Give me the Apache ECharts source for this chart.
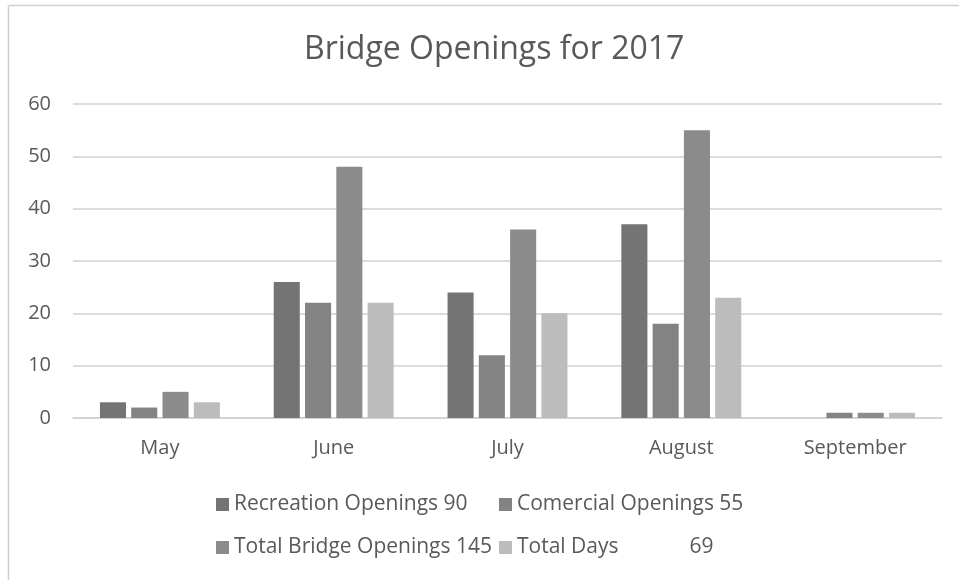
<!DOCTYPE html>
<html><head><meta charset="utf-8">
<script src="https://cdn.jsdelivr.net/npm/echarts@6/dist/echarts.min.js"></script>
<style>html,body{margin:0;padding:0;background:#fff}#c{width:959px;height:580px}</style>
</head><body><div id="c"></div>
<script>
const categories = ['May', 'June', 'July', 'August', 'September'];
const recreation = [3, 26, 24, 37, 0];
const commercial = [2, 22, 12, 18, 1];
const totalBridge = [5, 48, 36, 55, 1];
const totalDays = [3, 22, 20, 23, 1];
const seriesNames = ['Recreation Openings 90', 'Comercial Openings 55', 'Total Bridge Openings 145', 'Total Days'];
const yTicks = [0, 10, 20, 30, 40, 50, 60];

const font = '"Open Sans", Calibri, sans-serif';
const chart = echarts.init(document.getElementById('c'), null, {renderer: 'canvas'});
const colors = ['#747474', '#838383', '#8b8b8b', '#bcbcbc'];
const legendText = {fontFamily: font, fontSize: 21, color: '#595959'};
chart.setOption({
  animation: false,
  color: colors,
  title: {text: 'Bridge Openings for 2017', left: 299, top: 29,
    textStyle: {fontFamily: font, fontSize: 32, fontWeight: 'normal', color: '#595959'}},
  graphic: [
    {type: 'line', shape: {x1: 8.5, y1: 5.5, x2: 959, y2: 5.5}, style: {stroke: '#d0d0d0', lineWidth: 1.5}},
    {type: 'line', shape: {x1: 8.5, y1: 5.5, x2: 8.5, y2: 580}, style: {stroke: '#d0d0d0', lineWidth: 1.5}}
  ],
  legend: [
    {data: [seriesNames[0], seriesNames[2]], orient: 'vertical', left: 211, top: 489, itemGap: 22,
      itemWidth: 13, itemHeight: 13, icon: 'rect', textStyle: legendText},
    {data: [seriesNames[1], seriesNames[3]], orient: 'vertical', left: 494, top: 489, itemGap: 22,
      itemWidth: 13, itemHeight: 13, icon: 'rect', textStyle: legendText,
      formatter: n => n === 'Total Days' ? 'Total Days             69' : n}
  ],
  grid: {left: 73, right: 17, top: 104, bottom: 162},
  xAxis: {type: 'category', data: categories,
    axisLine: {lineStyle: {color: '#d0d0d0', width: 1.5}}, axisTick: {show: false},
    axisLabel: {fontFamily: font, fontSize: 20, color: '#595959', margin: 20}},
  yAxis: {type: 'value', min: yTicks[0], max: yTicks[yTicks.length - 1], interval: 10,
    axisLine: {show: false}, axisTick: {show: false},
    splitLine: {lineStyle: {color: '#d0d0d0', width: 1.5}},
    axisLabel: {fontFamily: font, fontSize: 20, color: '#595959', margin: 22}},
  series: [recreation, commercial, totalBridge, totalDays].map((d, i) => ({
    name: seriesNames[i], type: 'bar', data: d, barGap: '20%', barCategoryGap: '31%'
  }))
});
</script></body></html>
